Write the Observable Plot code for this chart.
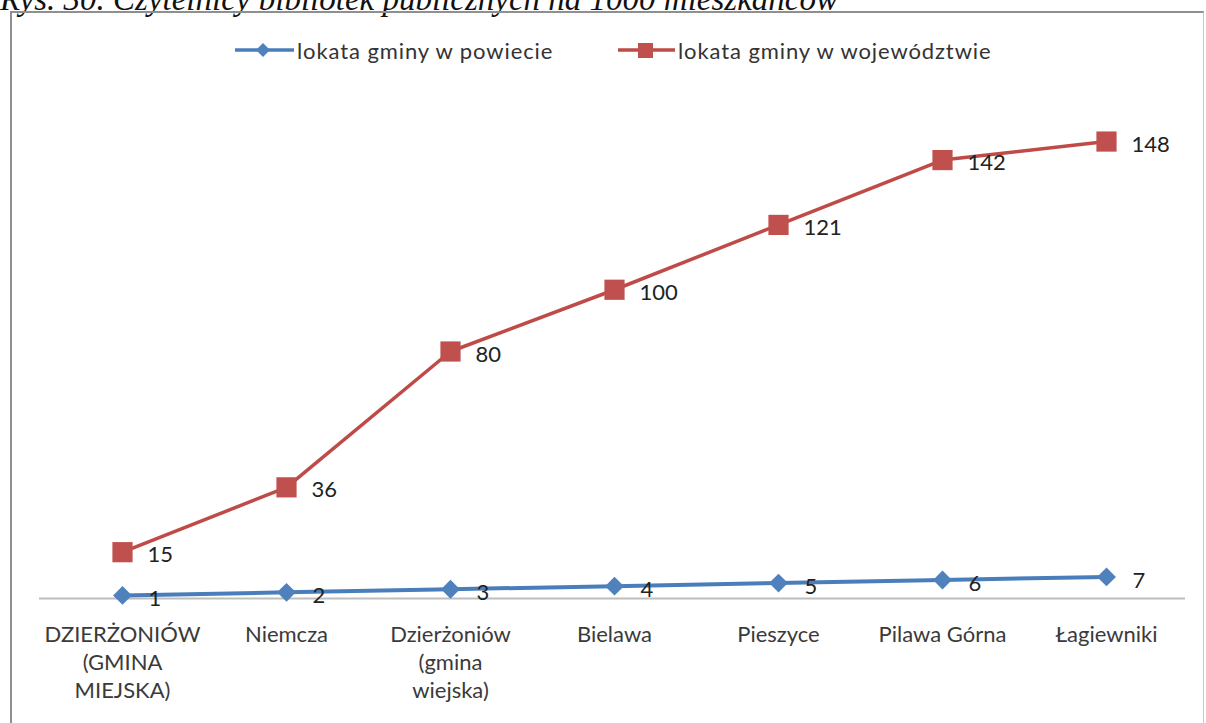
<!DOCTYPE html>
<html><head><meta charset="utf-8">
<script src="https://cdn.jsdelivr.net/npm/d3@7"></script>
<script src="https://cdn.jsdelivr.net/npm/@observablehq/plot@0.6"></script>
<style>
body{margin:0;background:#fff;}
#wrap{position:relative;width:1206px;height:723px;overflow:hidden;background:#fff;}
#title{position:absolute;left:0px;top:-19px;font-family:"Liberation Serif","Times New Roman",serif;font-style:italic;font-size:33px;line-height:1.15;color:#111;white-space:nowrap;}
#frame{position:absolute;left:10px;top:11px;width:1194px;height:730px;border:2px solid #8f8f8f;border-right:1px solid #c8c8c8;box-sizing:border-box;}
#chart{position:absolute;left:0;top:0;}
.leg{position:absolute;top:36px;font-family:Lato,"Open Sans",sans-serif;font-size:22px;letter-spacing:0.9px;color:#333;display:flex;align-items:center;white-space:nowrap;height:28px;}
.leg svg{margin-right:3px;}
</style></head>
<body><div id="wrap">
<div id="title">Rys. 30. Czytelnicy bibliotek publicznych na 1000 mieszkańców</div>
<div id="frame"></div>
<div id="chart"></div>
<div class="leg" style="left:235px"><svg width="59" height="28"><line x1="0" y1="14" x2="59" y2="14" stroke="#4A7EBB" stroke-width="3.5"/><path d="M28,7 L35,14 L28,21 L21,14Z" fill="#4F81BD"/></svg>lokata gminy w powiecie</div>
<div class="leg" style="left:618px"><svg width="57" height="28"><line x1="0" y1="14" x2="57" y2="14" stroke="#BE4B48" stroke-width="3.5"/><rect x="20" y="7" width="15" height="15" fill="#C0504D"/></svg>lokata gminy w województwie</div>
</div>
<script>
const categories = ["DZIERŻONIÓW\n(GMINA\nMIEJSKA)", "Niemcza", "Dzierżoniów\n(gmina\nwiejska)", "Bielawa", "Pieszyce", "Pilawa Górna", "Łagiewniki"];
const powiat = [1, 2, 3, 4, 5, 6, 7];
const wojewodztwo = [15, 36, 80, 100, 121, 142, 148];

const dPow = categories.map((c, i) => ({c, v: powiat[i]}));
const dWoj = categories.map((c, i) => ({c, v: wojewodztwo[i]}));

const chart = Plot.plot({
  width: 1206,
  height: 723,
  marginLeft: 39,
  marginRight: 17,
  marginTop: 104,
  marginBottom: 125,
  style: {background: "transparent", fontFamily: "Lato, 'Open Sans', sans-serif"},
  x: {type: "band", domain: categories, padding: 0, label: null},
  y: {domain: [0, 160], axis: null},
  marks: [
    Plot.ruleY([0], {stroke: "#bdbdbd", strokeWidth: 2, insetRight: 4}),
    Plot.axisX({tickSize: 0, tickPadding: 24, fontSize: 22, lineHeight: 1.27, fill: "#3a3a3a", textAnchor: "middle", label: null, style: "letter-spacing:0.8px"}),
    Plot.line(dWoj, {x: "c", y: "v", stroke: "#BE4B48", strokeWidth: 3.5}),
    Plot.dot(dWoj, {x: "c", y: "v", symbol: "square", r: 11.4, fill: "#C0504D"}),
    Plot.text(dWoj, {x: "c", y: "v", text: "v", dx: 25, dy: 3, textAnchor: "start", fontSize: 22, fill: "#222"}),
    Plot.line(dPow, {x: "c", y: "v", stroke: "#4A7EBB", strokeWidth: 4}),
    Plot.dot(dPow, {x: "c", y: "v", symbol: "diamond2", r: 8.5, fill: "#4F81BD"}),
    Plot.text(dPow, {x: "c", y: "v", text: "v", dx: 26, dy: 4, textAnchor: "start", fontSize: 22, fill: "#222"})
  ]
});
document.getElementById("chart").appendChild(chart);
</script>
</body></html>
